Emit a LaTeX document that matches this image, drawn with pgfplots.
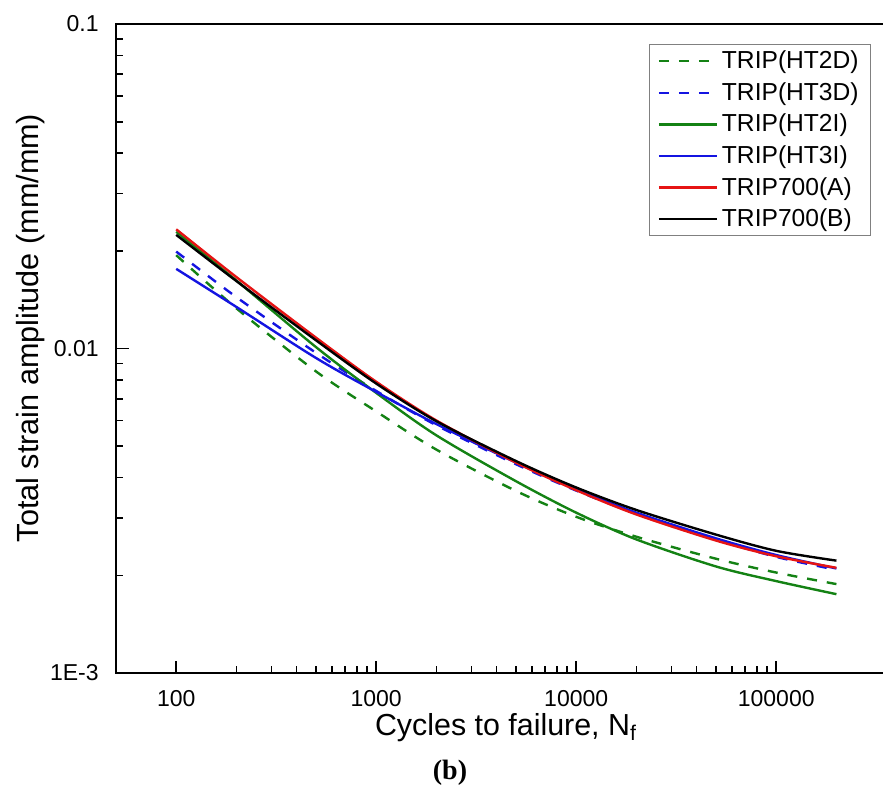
\documentclass[border=0pt]{standalone}
\usepackage{pgfplots}
\pgfplotsset{compat=1.18}
\usepackage{fontspec}
\setmainfont{Liberation Sans}
\newfontfamily\seriffont{Liberation Serif}
\definecolor{cgreen}{RGB}{20,130,20}
\definecolor{cblue}{RGB}{20,20,225}
\definecolor{cred}{RGB}{230,20,20}
\begin{document}
\begin{tikzpicture}
\begin{axis}[
  at={(0,0)}, anchor=south west,
  scale only axis, width=400pt, height=324.5pt,
  xmode=log, ymode=log,
  xmin=50, xmax=500000, ymin=0.001, ymax=0.1,
  axis line style={line width=1pt},
  tick style={line width=0.8pt, black},
  tick align=inside,
  major tick length=6.3pt, minor tick length=3.5pt,
  xtick pos=bottom, ytick pos=left,
  xtick={100,1000,10000,100000},
  xticklabels={100,1000,10000,100000},
  ytick={0.001,0.01,0.1},
  yticklabels={1E-3,0.01,0.1},
  xticklabel style={font=\fontsize{11.5}{13}\selectfont, anchor=north, inner sep=0pt, yshift=-8.5pt},
  yticklabel style={font=\fontsize{11.5}{13}\selectfont, anchor=east, inner sep=0pt, xshift=-8.5pt},
  xlabel={Cycles to failure, N\textsubscript{f}},
  ylabel={Total strain amplitude (mm/mm)},
  xlabel style={font=\fontsize{15.2}{18}\selectfont, at={(axis description cs:0.4875,0)}, anchor=base, yshift=-31pt},
  ylabel style={font=\fontsize{15.3}{18}\selectfont, at={(axis description cs:-0.0975,0.5316)}, anchor=base},
  legend style={at={(rel axis cs:0.944,0.969)}, anchor=north east, draw=gray, line width=0.6pt,
    font=\fontsize{12.3}{14}\selectfont, inner xsep=4pt, inner ysep=1pt, row sep=1.4pt},
  legend cell align=left,
  legend image code/.code={\draw[#1, line width=1.2pt] (0pt,0pt) -- (29pt,0pt);},
  every axis plot/.append style={line width=1.2pt, smooth},
]
\addplot[cgreen, dash pattern=on 5pt off 5pt] coordinates {
 (100,0.0194) (200,0.0133) (500,0.0085) (1000,0.0064) (2000,0.00488) (5000,0.00364)
 (10000,0.00303) (20000,0.00263) (50000,0.00225) (100000,0.00204) (200000,0.00188)};
\addlegendentry{TRIP(HT2D)}
\addplot[cblue, dash pattern=on 5pt off 5pt] coordinates {
 (100,0.0199) (200,0.0144) (500,0.0097) (1000,0.0074) (2000,0.0058) (5000,0.0044)
 (10000,0.00365) (20000,0.0031) (50000,0.00258) (100000,0.00228) (200000,0.00208)};
\addlegendentry{TRIP(HT3D)}
\addplot[cgreen] coordinates {
 (100,0.0229) (200,0.0162) (500,0.0101) (1000,0.0073) (2000,0.0054) (5000,0.0039)
 (10000,0.00312) (20000,0.00258) (50000,0.00213) (100000,0.00192) (200000,0.00175)};
\addlegendentry{TRIP(HT2I)}
\addplot[cblue] coordinates {
 (100,0.0176) (200,0.01343) (500,0.00935) (1000,0.00735) (2000,0.00585) (5000,0.00445)
 (10000,0.00368) (20000,0.00312) (50000,0.0026) (100000,0.00231) (200000,0.0021)};
\addlegendentry{TRIP(HT3I)}
\addplot[cred] coordinates {
 (100,0.0233) (200,0.0166) (500,0.0108) (1000,0.0079) (2000,0.0060) (5000,0.00445)
 (10000,0.00366) (20000,0.00308) (50000,0.00256) (100000,0.00229) (200000,0.00211)};
\addlegendentry{TRIP700(A)}
\addplot[black] coordinates {
 (100,0.0224) (200,0.01614) (500,0.0106) (1000,0.0078) (2000,0.00597) (5000,0.0045)
 (10000,0.00373) (20000,0.00318) (50000,0.00267) (100000,0.00238) (200000,0.00222)};
\addlegendentry{TRIP700(B)}
\end{axis}
\node[font=\seriffont\bfseries\fontsize{14}{16}\selectfont] at (167pt,-50pt) {(b)};
\pgfresetboundingbox
\useasboundingbox (-58pt,-58pt) rectangle (383.5pt,336.5pt);
\end{tikzpicture}
\end{document}
